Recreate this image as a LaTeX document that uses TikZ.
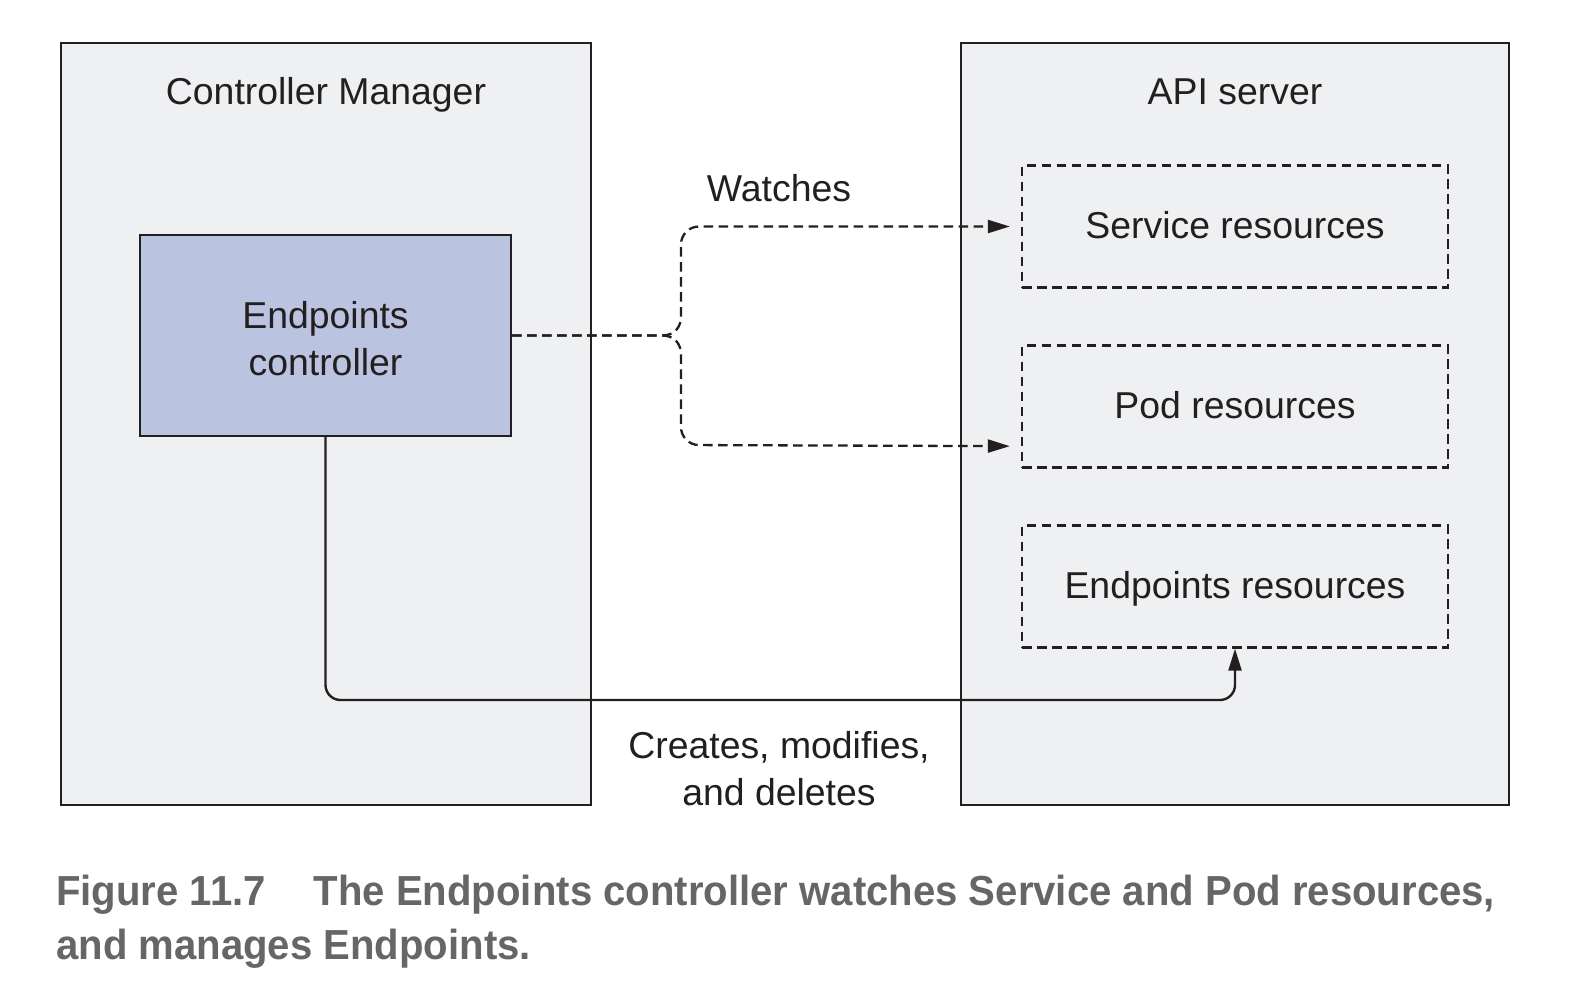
\documentclass[tikz,border=0pt]{standalone}
\usepackage{fontspec}
\setmainfont{Liberation Sans}
\newfontfamily\capfont[FakeStretch=0.955]{Liberation Sans}
\usetikzlibrary{arrows.meta,calc}
\definecolor{ink}{HTML}{231F20}
\definecolor{panelfill}{HTML}{EFF0F2}
\definecolor{ecfill}{HTML}{BAC3E0}
\definecolor{capgray}{HTML}{666666}
\begin{document}
\begin{tikzpicture}[x=1pt,y=-1pt,
  txt/.style={text=ink, font=\fontsize{37.4}{47}\selectfont},
  panel/.style={draw=ink, line width=2.4pt, fill=panelfill, inner sep=0pt},
  ecbox/.style={draw=ink, line width=2.4pt, fill=ecfill, txt, align=center,
    minimum width=371pt, minimum height=201pt, inner sep=0pt},
  resbox/.style={draw=ink, line width=2.3pt, dash pattern=on 9.5pt off 5.5pt, txt,
    minimum width=426pt, minimum height=122pt, inner sep=0pt,
    text height=27pt, text depth=3pt},
  dline/.style={draw=ink, line width=2.3pt, dash pattern=on 9.5pt off 5.5pt},
  sline/.style={draw=ink, line width=2.4pt},
  tip/.style={-{Triangle[length=22pt,width=13pt]}},
  captxt/.style={text=capgray, font=\capfont\bfseries\fontsize{42}{54}\selectfont,
    align=left, inner sep=0pt}
]
\useasboundingbox (0,0) rectangle (1590,980);
\fill[white] (0,0) rectangle (1590,980);

% panels
\node[panel, minimum width=530pt, minimum height=762pt] (cm) at (326,424) {};
\node[panel, minimum width=548pt, minimum height=762pt] (api) at (1235,424) {};
\node[txt, anchor=base] (cmlabel) at (326,104) {Controller Manager};
\node[txt, anchor=base] (apilabel) at (1235,104) {API server};

% boxes
\node[ecbox] (ec) at (325.5,335.5) {\rule{0pt}{33.3pt}Endpoints\\controller};
\node[resbox] (svc) at (1235,226.5) {Service resources};
\node[resbox] (pod) at (1235,406.5) {Pod resources};
\node[resbox] (epr) at (1235,586.5) {Endpoints resources};

% watches connectors
\coordinate (j) at (662,335.5);
\draw[dline, tip] (ec.east) -- (j) .. controls (674,335.5) and (681,328) .. (681,316)
  [rounded corners=18pt] -- (681,226.5) -- ($(svc.west)+(-11,0)$);
\draw[dline, tip] (ec.east) -- (j) .. controls (674,335.5) and (681,343) .. (681,355)
  [rounded corners=18pt] -- (681,445) -- ($(pod.south west)+(-11,-22.5)$);
\node[txt, anchor=base] (watches) at (779,201) {Watches};

% creates connector
\coordinate (bot) at (0,700);
\draw[sline, tip, rounded corners=15pt] (ec.south) -- (ec.south |- bot) -- (epr.south |- bot) -- (epr.south);
\node[txt, align=center] (creates) at (779,769) {Creates, modifies,\\and deletes};

% caption
\node[captxt, anchor=north west] (cap) at (56,875)
  {Figure 11.7\hspace{48pt}The Endpoints controller watches Service and Pod resources,\\and manages Endpoints.};
\end{tikzpicture}
\end{document}
